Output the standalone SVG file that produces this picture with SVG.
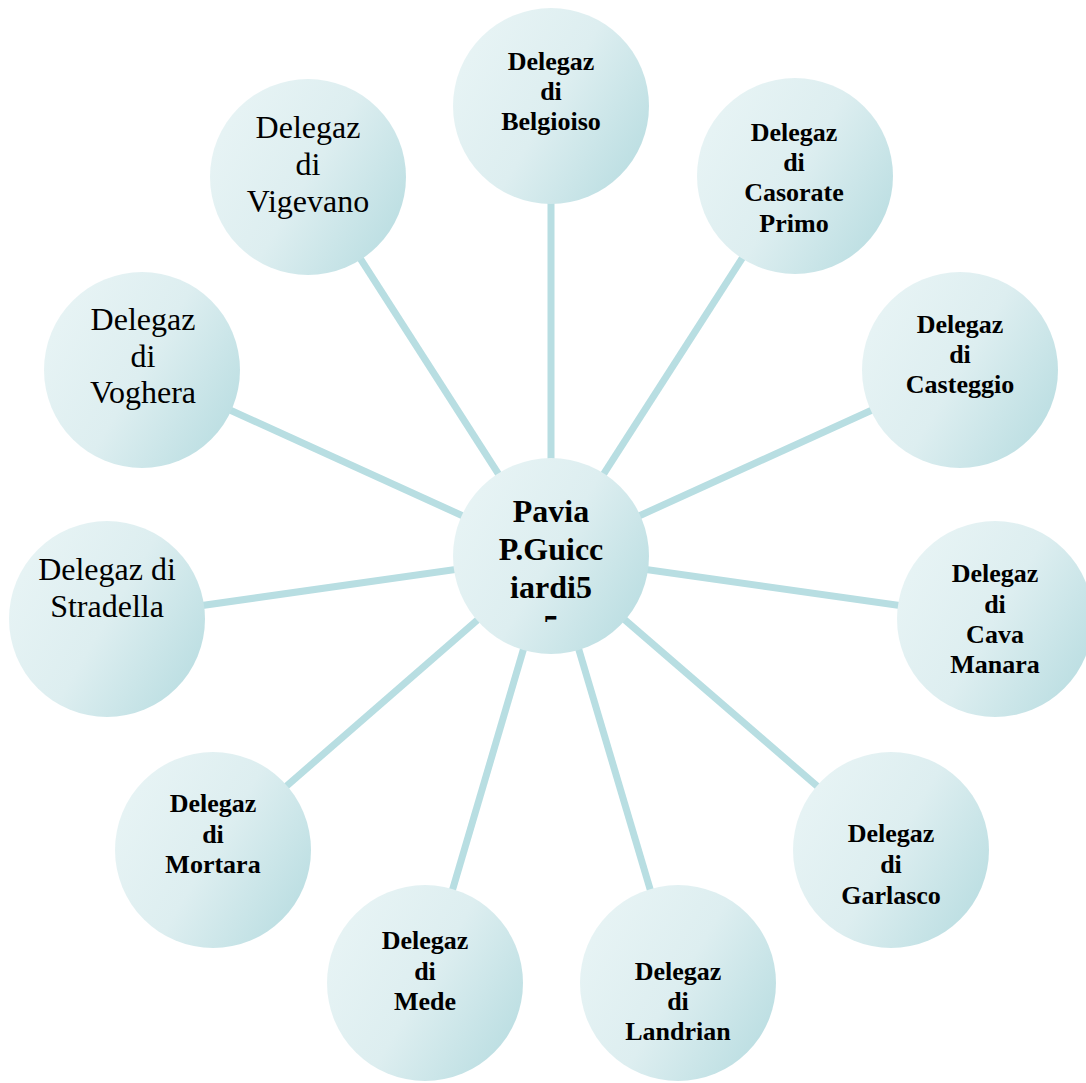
<svg xmlns="http://www.w3.org/2000/svg" width="1086" height="1083" viewBox="0 0 1086 1083">
<defs>
<linearGradient id="g" x1="0" y1="0.2" x2="1" y2="0.8">
<stop offset="0" stop-color="#e8f4f5"/>
<stop offset="0.5" stop-color="#ddeef0"/>
<stop offset="1" stop-color="#b9dde1"/>
</linearGradient>
<clipPath id="cc"><rect x="440" y="440" width="230" height="182"/></clipPath>
</defs>
<style>
.n{fill:url(#g);}
.c line{stroke:#b8dee2;stroke-width:7;}
.b{font-family:"Liberation Serif",serif;font-weight:bold;font-size:26px;fill:#000;text-anchor:middle;}
.r{font-family:"Liberation Serif",serif;font-size:32px;fill:#000;text-anchor:middle;}
.m{font-family:"Liberation Serif",serif;font-weight:bold;font-size:32px;fill:#000;text-anchor:middle;}
</style>
<rect width="1086" height="1083" fill="#fff"/>
<g class="c" id="connectors">
<line x1="551" y1="556" x2="551" y2="106"/>
<line x1="551" y1="556" x2="795" y2="176"/>
<line x1="551" y1="556" x2="960" y2="370"/>
<line x1="551" y1="556" x2="995" y2="619"/>
<line x1="551" y1="556" x2="891" y2="850"/>
<line x1="551" y1="556" x2="678" y2="983"/>
<line x1="551" y1="556" x2="425" y2="983"/>
<line x1="551" y1="556" x2="213" y2="850"/>
<line x1="551" y1="556" x2="107" y2="619"/>
<line x1="551" y1="556" x2="142" y2="370"/>
<line x1="551" y1="556" x2="308" y2="177"/>
</g>
<g id="pavia">
<circle class="n" cx="551" cy="556" r="98"/>
<g clip-path="url(#cc)">
<text class="m" x="551" y="522">Pavia</text>
<text class="m" x="551" y="560">P.Guicc</text>
<text class="m" x="551" y="598">iardi5</text>
<text class="m" x="551" y="637">5</text>
</g>
</g>
<g id="belgioiso">
<circle class="n" cx="551" cy="106" r="98"/>
<text class="b" x="551" y="70">Delegaz</text>
<text class="b" x="551" y="100">di</text>
<text class="b" x="551" y="130">Belgioiso</text>
</g>
<g id="casorate">
<circle class="n" cx="795" cy="176" r="98"/>
<text class="b" x="794" y="141">Delegaz</text>
<text class="b" x="794" y="171">di</text>
<text class="b" x="794" y="201">Casorate</text>
<text class="b" x="794" y="232">Primo</text>
</g>
<g id="casteggio">
<circle class="n" cx="960" cy="370" r="98"/>
<text class="b" x="960" y="333">Delegaz</text>
<text class="b" x="960" y="363">di</text>
<text class="b" x="960" y="393">Casteggio</text>
</g>
<g id="cavamanara">
<circle class="n" cx="995" cy="619" r="98"/>
<text class="b" x="995" y="582">Delegaz</text>
<text class="b" x="995" y="613">di</text>
<text class="b" x="995" y="643">Cava</text>
<text class="b" x="995" y="673">Manara</text>
</g>
<g id="garlasco">
<circle class="n" cx="891" cy="850" r="98"/>
<text class="b" x="891" y="842">Delegaz</text>
<text class="b" x="891" y="873">di</text>
<text class="b" x="891" y="904">Garlasco</text>
</g>
<g id="landrian">
<circle class="n" cx="678" cy="983" r="98"/>
<text class="b" x="678" y="980">Delegaz</text>
<text class="b" x="678" y="1010">di</text>
<text class="b" x="678" y="1040">Landrian</text>
</g>
<g id="mede">
<circle class="n" cx="425" cy="983" r="98"/>
<text class="b" x="425" y="949">Delegaz</text>
<text class="b" x="425" y="980">di</text>
<text class="b" x="425" y="1010">Mede</text>
</g>
<g id="mortara">
<circle class="n" cx="213" cy="850" r="98"/>
<text class="b" x="213" y="812">Delegaz</text>
<text class="b" x="213" y="843">di</text>
<text class="b" x="213" y="873">Mortara</text>
</g>
<g id="stradella">
<circle class="n" cx="107" cy="619" r="98"/>
<text class="r" x="107" y="580">Delegaz di</text>
<text class="r" x="107" y="617">Stradella</text>
</g>
<g id="voghera">
<circle class="n" cx="142" cy="370" r="98"/>
<text class="r" x="143" y="330">Delegaz</text>
<text class="r" x="143" y="367">di</text>
<text class="r" x="143" y="403">Voghera</text>
</g>
<g id="vigevano">
<circle class="n" cx="308" cy="177" r="98"/>
<text class="r" x="308" y="138">Delegaz</text>
<text class="r" x="308" y="175">di</text>
<text class="r" x="308" y="212">Vigevano</text>
</g>
</svg>
